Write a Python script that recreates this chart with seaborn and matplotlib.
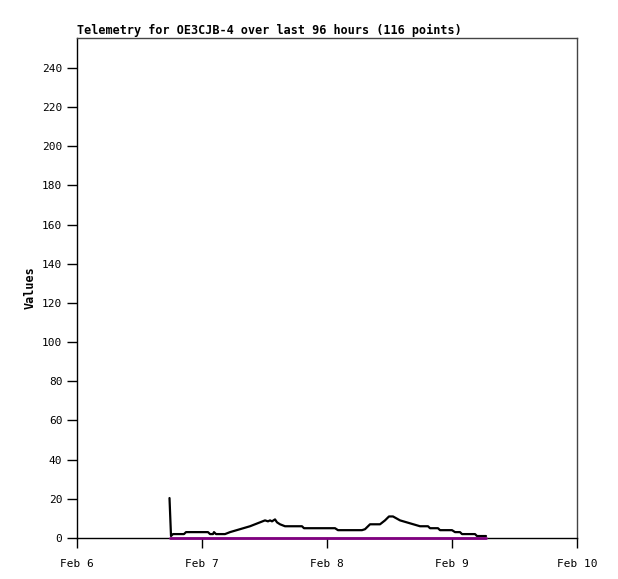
import numpy as np
import pandas as pd
import matplotlib
matplotlib.use("Agg")
import matplotlib.pyplot as plt
import matplotlib.dates as mdates
import seaborn as sns

# hours after Feb 6 00:00 and the telemetry values
hours = [17.76, 18.05, 18.43, 20.54, 20.93, 25.15, 25.54, 26.11, 26.30, 26.69,
         28.42, 29.38, 31.30, 33.22, 34.18, 35.14, 36.10, 36.67, 37.06, 37.44,
         38.02, 38.40, 38.98, 39.94, 40.90, 43.20, 43.58, 49.54, 50.11, 54.72,
         55.30, 56.26, 58.18, 59.14, 59.90, 60.67, 62.02, 63.94, 65.86, 67.39,
         67.78, 69.31, 69.70, 72.00, 72.58, 73.54, 73.92, 76.42, 76.80, 78.53]
values_a = [20.4, 1, 2, 2, 3, 3, 2, 2, 3, 2,
            2, 3, 4.5, 6, 7, 8, 9, 8.5, 9, 8.5,
            9.5, 8, 7, 6, 6, 6, 5, 5, 4, 4,
            4.5, 7, 7, 9, 11, 11, 9, 7.5, 6, 6,
            5, 5, 4, 4, 3, 3, 2, 2, 1, 1]
values_b = [0] * len(hours)

start = pd.Timestamp("2024-02-06")
times = [start + pd.Timedelta(hours=h) for h in hours]
df = pd.DataFrame({"time": times, "a": values_a, "b": values_b})

sns.set_style("white")
plt.rcParams["font.family"] = ["DejaVu Sans Mono"]
plt.rcParams["text.color"] = "black"
plt.rcParams["axes.labelcolor"] = "black"
plt.rcParams["xtick.color"] = "black"
plt.rcParams["ytick.color"] = "black"

fig = plt.figure(figsize=(6.18, 5.79), dpi=100)
ax = fig.add_axes([77 / 618, 1 - 538 / 579, 500 / 618, 500 / 579])

sns.lineplot(data=df, x="time", y="a", ax=ax, color="black", lw=1.6, zorder=4)
sns.lineplot(data=df, x="time", y="b", ax=ax, color="#800080", lw=2,
             zorder=5, clip_on=False)

ax.set_xlim(start, start + pd.Timedelta(days=4))
ax.set_ylim(0, 255.3)
ax.set_yticks(range(0, 241, 20))
ax.xaxis.set_major_locator(mdates.DayLocator())
ax.xaxis.set_major_formatter(mdates.DateFormatter("%b %-d"))
ax.tick_params(axis="both", length=7, width=1, labelsize=8,
               direction="out", bottom=True, left=True)
ax.tick_params(axis="x", pad=8)

for s in ["left", "bottom"]:
    ax.spines[s].set_color("black")
for s in ["top", "right"]:
    ax.spines[s].set_color("#444444")
for s in ax.spines.values():
    s.set_linewidth(1)

ax.set_xlabel("")
ax.set_ylabel("Values", fontsize=8.5, fontweight="bold")
ax.set_title("Telemetry for OE3CJB-4 over last 96 hours (116 points)",
             loc="left", fontsize=8.5, fontweight="bold", pad=3)

fig.savefig("out.png", dpi=100)
